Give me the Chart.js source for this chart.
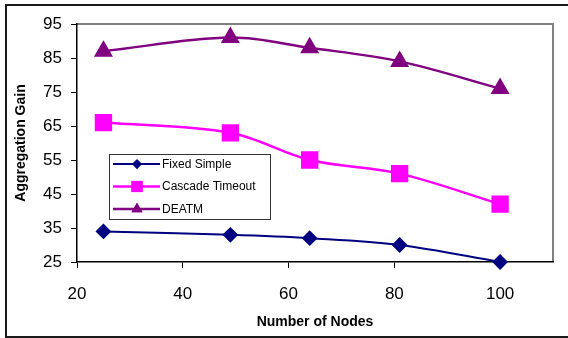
<!DOCTYPE html>
<html>
<head>
<meta charset="utf-8">
<script src="https://cdn.jsdelivr.net/npm/chart.js@4/dist/chart.umd.min.js"></script>
<style>
  html, body { margin: 0; padding: 0; background: #fff; }
  #wrap { width: 568px; height: 338px; position: relative; }
</style>
</head>
<body>
<div id="wrap"><canvas id="gainChart"></canvas></div>
<script>
const nodeCounts = [25, 49, 64, 81, 100];
const fixedSimple = [34, 33, 32, 30, 25];
const cascadeTimeout = [66, 63, 55, 51, 42];
const deatm = [87, 91, 88, 84, 76];
const xTicks = [20, 40, 60, 80, 100];
const yTicks = [25, 35, 45, 55, 65, 75, 85, 95];

function toPoints(values) {
    return values.map(function(v, i) { return { x: nodeCounts[i], y: v }; });
}

const frameAndLegend = {
    id: 'frameAndLegend',
    beforeDraw: function(chart) {
        const ctx = chart.ctx;
        const area = chart.chartArea;
        ctx.save();
        ctx.fillStyle = '#ffffff';
        ctx.fillRect(0, 0, chart.width, chart.height);
        // outer chart border
        ctx.strokeStyle = '#1a1a1a';
        ctx.lineWidth = 2;
        ctx.strokeRect(6, 5, chart.width + 10, 332);
        // plot area frame (top / right in gray)
        ctx.strokeStyle = '#808080';
        ctx.lineWidth = 2;
        ctx.beginPath();
        ctx.moveTo(area.left, area.top);
        ctx.lineTo(area.right, area.top);
        ctx.lineTo(area.right, area.bottom);
        ctx.stroke();
        ctx.restore();
    },
    afterDraw: function(chart) {
        const ctx = chart.ctx;
        const box = { x: 109.5, y: 154.5, w: 161, h: 65 };
        ctx.save();
        ctx.fillStyle = '#ffffff';
        ctx.fillRect(box.x, box.y, box.w, box.h);
        ctx.strokeStyle = '#333333';
        ctx.lineWidth = 1;
        ctx.strokeRect(box.x, box.y, box.w, box.h);
        ctx.font = '12px "Liberation Sans", Arial, sans-serif';
        ctx.textBaseline = 'middle';
        chart.data.datasets.forEach(function(ds, i) {
            const rowY = 164 + i * 22.5;
            ctx.strokeStyle = ds.borderColor;
            ctx.lineWidth = ds.borderWidth;
            ctx.beginPath();
            ctx.moveTo(113, rowY);
            ctx.lineTo(160, rowY);
            ctx.stroke();
            ctx.fillStyle = ds.pointBackgroundColor;
            Chart.helpers.drawPoint(ctx, {
                pointStyle: ds.pointStyle,
                radius: ds.pointRadius * 0.75,
                rotation: 0,
                borderWidth: 0
            }, 137, rowY);
            ctx.fill();
            ctx.fillStyle = '#000000';
            ctx.fillText(ds.label, 162, rowY + 0.5);
        });
        ctx.restore();
    }
};

const ctx = document.getElementById('gainChart').getContext('2d');

new Chart(ctx, {
    type: 'line',
    data: {
        datasets: [{
            label: 'Fixed Simple',
            data: toPoints(fixedSimple),
            borderColor: '#000080',
            backgroundColor: '#000080',
            pointBackgroundColor: '#000080',
            pointBorderColor: '#000080',
            pointStyle: 'rectRot',
            pointRadius: 6.5,
            borderWidth: 2
        }, {
            label: 'Cascade Timeout',
            data: toPoints(cascadeTimeout),
            borderColor: '#ff00ff',
            backgroundColor: '#ff00ff',
            pointBackgroundColor: '#ff00ff',
            pointBorderColor: '#ff00ff',
            pointStyle: 'rect',
            pointRadius: 10.5,
            borderWidth: 2.5
        }, {
            label: 'DEATM',
            data: toPoints(deatm),
            borderColor: '#800080',
            backgroundColor: '#800080',
            pointBackgroundColor: '#800080',
            pointBorderColor: '#800080',
            pointStyle: 'triangle',
            pointRadius: 8.5,
            borderWidth: 2.5
        }]
    },
    options: {
        responsive: true,
        maintainAspectRatio: false,
        animation: false,
        layout: { padding: { top: 24, right: 15, left: 0, bottom: 0 } },
        elements: {
            line: { tension: 0.35, fill: false },
            point: { borderWidth: 0, hoverRadius: 8 }
        },
        datasets: { line: { clip: false } },
        plugins: {
            legend: { display: false },
            tooltip: { enabled: false }
        },
        scales: {
            x: {
                type: 'linear',
                min: 20,
                max: 110,
                afterFit: function(scale) { scale.height = 76; },
                afterBuildTicks: function(scale) {
                    scale.ticks = xTicks.map(function(v) { return { value: v }; });
                },
                grid: { drawOnChartArea: false, tickLength: 6, color: '#000000', lineWidth: 1 },
                border: { color: '#000000', width: 1.5 },
                ticks: {
                    color: '#000000',
                    padding: 16,
                    maxRotation: 0,
                    font: { family: '"Liberation Sans", Arial, sans-serif', size: 17 }
                },
                title: {
                    display: true,
                    text: 'Number of Nodes',
                    color: '#000000',
                    padding: { top: 0, bottom: 7 },
                    font: { family: '"Liberation Sans", Arial, sans-serif', size: 14, weight: 'bold' }
                }
            },
            y: {
                min: 25,
                max: 95,
                afterFit: function(scale) { scale.width = 77; },
                afterBuildTicks: function(scale) {
                    scale.ticks = yTicks.map(function(v) { return { value: v }; });
                },
                grid: { drawOnChartArea: false, tickLength: 6, color: '#000000', lineWidth: 1 },
                border: { color: '#000000', width: 1.5 },
                ticks: {
                    color: '#000000',
                    padding: 9,
                    font: { family: '"Liberation Sans", Arial, sans-serif', size: 17 }
                },
                title: {
                    display: true,
                    text: 'Aggregation Gain',
                    color: '#000000',
                    padding: { top: 13, bottom: 0 },
                    font: { family: '"Liberation Sans", Arial, sans-serif', size: 14, weight: 'bold' }
                }
            }
        }
    },
    plugins: [frameAndLegend]
});
</script>
</body>
</html>
